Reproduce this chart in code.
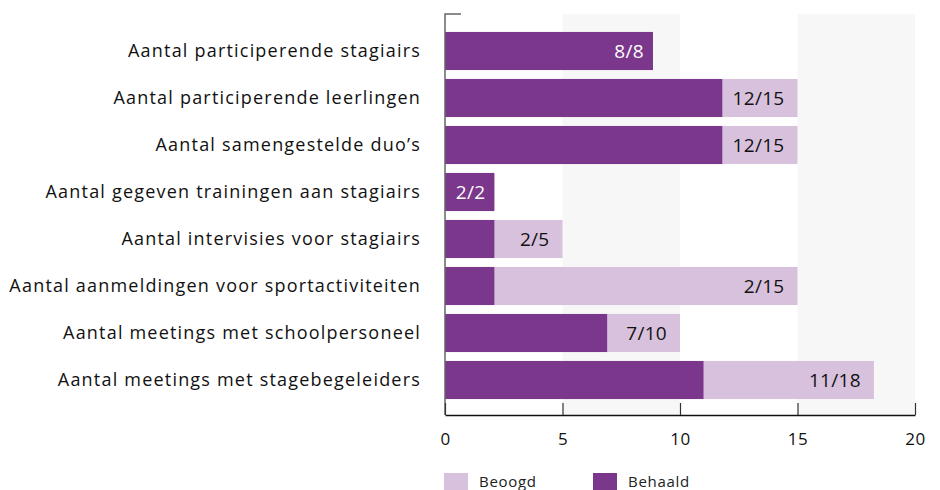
<!DOCTYPE html>
<html>
<head>
<meta charset="utf-8">
<script src="https://cdn.jsdelivr.net/npm/d3@7"></script>
<style>
  body { margin: 0; background: #fff; }
  text { font-family: "Open Sans", sans-serif; }
</style>
</head>
<body>
<div id="chart"></div>
<script>
// Data
const categories = [
  "Aantal participerende stagiairs",
  "Aantal participerende leerlingen",
  "Aantal samengestelde duo’s",
  "Aantal gegeven trainingen aan stagiairs",
  "Aantal intervisies voor stagiairs",
  "Aantal aanmeldingen voor sportactiviteiten",
  "Aantal meetings met schoolpersoneel",
  "Aantal meetings met stagebegeleiders",
];
const behaald = [8.85, 11.8, 11.8, 2.1, 2.1, 2.1, 6.9, 11.0];
const beoogd = [8.85, 15, 15, 2.1, 5, 15, 10, 18.25];
const valueLabels = ["8/8", "12/15", "12/15", "2/2", "2/5", "2/15", "7/10", "11/18"];
const xTicks = [0, 5, 10, 15, 20];
const legendItems = [
  { name: "Beoogd", color: "#d8c1dd" },
  { name: "Behaald", color: "#7b378b" },
];

const dataset = categories.map((c, i) => ({
  cat: c,
  behaald: behaald[i],
  beoogd: beoogd[i],
  label: valueLabels[i],
}));

// Dimensions
const dimensions = {
  width: 940,
  height: 490,
  left: 445,
  right: 915,
  top: 14,
  bottom: 415,
};

const svg = d3
  .select("#chart")
  .append("svg")
  .attr("width", dimensions.width)
  .attr("height", dimensions.height);

// Scales
const xScale = d3
  .scaleLinear()
  .domain([0, 20])
  .range([dimensions.left, dimensions.right]);

const yScale = d3
  .scaleBand()
  .domain(categories)
  .range([27.5, 403.5])
  .paddingInner(0.19)
  .paddingOuter(0.095);

// Background bands (5-10, 15-20)
svg
  .append("g")
  .selectAll("rect")
  .data([[5, 10], [15, 20]])
  .join("rect")
  .attr("x", (d) => xScale(d[0]))
  .attr("width", (d) => xScale(d[1]) - xScale(d[0]))
  .attr("y", dimensions.top)
  .attr("height", dimensions.bottom - dimensions.top)
  .attr("fill", "#f7f7f7");

// Bars
const bars = svg.append("g");
bars
  .selectAll("rect.beoogd")
  .data(dataset)
  .join("rect")
  .classed("beoogd", true)
  .attr("x", xScale(0))
  .attr("y", (d) => yScale(d.cat))
  .attr("width", (d) => xScale(d.beoogd) - xScale(0))
  .attr("height", yScale.bandwidth())
  .attr("fill", legendItems[0].color);

bars
  .selectAll("rect.behaald")
  .data(dataset)
  .join("rect")
  .classed("behaald", true)
  .attr("x", xScale(0))
  .attr("y", (d) => yScale(d.cat))
  .attr("width", (d) => xScale(d.behaald) - xScale(0))
  .attr("height", yScale.bandwidth())
  .attr("fill", legendItems[1].color);

// Value labels
const onDark = (d) => d.beoogd <= d.behaald;
svg
  .append("g")
  .selectAll("text")
  .data(dataset)
  .join("text")
  .attr("x", (d) => xScale(d.beoogd) - (onDark(d) ? 9 : 13))
  .attr("y", (d) => yScale(d.cat) + yScale.bandwidth() / 2)
  .attr("dy", "0.35em")
  .attr("text-anchor", "end")
  .attr("font-size", 19)
  .attr("letter-spacing", 0.3)
  .attr("fill", (d) => (onDark(d) ? "#fff" : "#111"))
  .text((d) => d.label);

// Category labels
svg
  .append("g")
  .selectAll("text")
  .data(categories)
  .join("text")
  .attr("x", dimensions.left - 24)
  .attr("y", (d) => yScale(d) + yScale.bandwidth() / 2)
  .attr("dy", "0.35em")
  .attr("text-anchor", "end")
  .attr("font-size", 18)
  .attr("letter-spacing", 1.2)
  .attr("fill", "#111")
  .text((d) => d);

// Left axis line with top tick
svg
  .append("path")
  .attr(
    "d",
    `M${dimensions.left + 16},${dimensions.top}H${dimensions.left}V${dimensions.bottom}`
  )
  .attr("fill", "none")
  .attr("stroke", "#666")
  .attr("stroke-width", 1.5);

// Bottom axis
const axis = d3
  .axisBottom(xScale)
  .tickValues(xTicks)
  .tickSize(-12)
  .tickSizeOuter(0)
  .tickPadding(18);

const axisG = svg
  .append("g")
  .attr("transform", `translate(0, ${dimensions.bottom})`)
  .call(axis);
axisG.select(".domain").attr("stroke", "#111").attr("stroke-width", 1.5);
axisG.selectAll(".tick line").attr("stroke", "#333").attr("stroke-width", 1.2);
axisG
  .selectAll(".tick text")
  .attr("font-size", 17)
  .attr("letter-spacing", 0.5)
  .attr("font-family", "Open Sans, sans-serif")
  .attr("fill", "#111");

// Legend
const legend = svg
  .append("g")
  .selectAll("g")
  .data(legendItems)
  .join("g")
  .attr("transform", (d, i) => `translate(${444 + i * 149}, 473)`);

legend
  .append("rect")
  .attr("width", 24)
  .attr("height", 17)
  .attr("fill", (d) => d.color);

legend
  .append("text")
  .attr("x", 35)
  .attr("y", 8.5)
  .attr("dy", "0.35em")
  .attr("font-size", 15)
  .attr("letter-spacing", 0.7)
  .attr("fill", "#222")
  .text((d) => d.name);
</script>
</body>
</html>
